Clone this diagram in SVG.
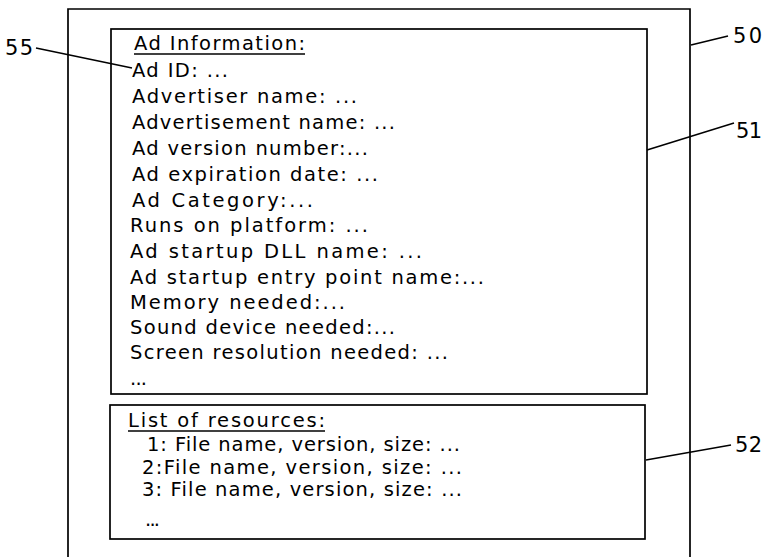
<svg xmlns="http://www.w3.org/2000/svg" width="765" height="557" viewBox="0 0 765 557">
<style>
.box{fill:none;stroke:#000;stroke-width:1.7}
.lead{fill:none;stroke:#000;stroke-width:1.5}
.t{font-family:"DejaVu Sans","Liberation Sans",sans-serif;font-size:19.5px;fill:#000}
.ref{font-family:"DejaVu Sans","Liberation Sans",sans-serif;font-size:21px;fill:#000}
.ul{stroke:#000;stroke-width:1.5}
</style>
<rect width="765" height="557" fill="#fff"/>
<g id="frame50">
<path class="box" d="M68,560 L68,9 L690,9 L690,560"/>
</g>
<g id="box51">
<rect class="box" x="111" y="29" width="536" height="365"/>
<text class="t" x="134" y="50" textLength="171" lengthAdjust="spacing">Ad Information:</text>
<line class="ul" x1="134" y1="54" x2="305" y2="54"/>
<text class="t" x="132" y="77" textLength="96" lengthAdjust="spacing">Ad ID: ...</text>
<text class="t" x="132" y="103" textLength="225" lengthAdjust="spacing">Advertiser name: ...</text>
<text class="t" x="132" y="129" textLength="263" lengthAdjust="spacing">Advertisement name: ...</text>
<text class="t" x="132" y="155" textLength="236" lengthAdjust="spacing">Ad version number:...</text>
<text class="t" x="132" y="181" textLength="246" lengthAdjust="spacing">Ad expiration date: ...</text>
<text class="t" x="132" y="207" textLength="181" lengthAdjust="spacing">Ad Category:...</text>
<text class="t" x="130" y="232" textLength="238" lengthAdjust="spacing">Runs on platform: ...</text>
<text class="t" x="130" y="258" textLength="292" lengthAdjust="spacing">Ad startup DLL name: ...</text>
<text class="t" x="130" y="284" textLength="354" lengthAdjust="spacing">Ad startup entry point name:...</text>
<text class="t" x="130" y="309" textLength="215" lengthAdjust="spacing">Memory needed:...</text>
<text class="t" x="130" y="334" textLength="265" lengthAdjust="spacing">Sound device needed:...</text>
<text class="t" x="130" y="359" textLength="318" lengthAdjust="spacing">Screen resolution needed: ...</text>
<text class="t" x="130" y="385" textLength="17" lengthAdjust="spacing">...</text>
</g>
<g id="box52">
<rect class="box" x="110" y="405" width="535" height="134"/>
<text class="t" x="128" y="427" textLength="197" lengthAdjust="spacing">List of resources:</text>
<line class="ul" x1="128" y1="431" x2="325" y2="431"/>
<text class="t" x="147" y="451" textLength="313" lengthAdjust="spacing">1: File name, version, size: ...</text>
<text class="t" x="142" y="474" textLength="320" lengthAdjust="spacing">2:File name, version, size: ...</text>
<text class="t" x="142" y="496" textLength="320" lengthAdjust="spacing">3: File name, version, size: ...</text>
<text class="t" x="145" y="526" textLength="15" lengthAdjust="spacing">...</text>
</g>
<g id="label55"><text class="ref" x="5" y="55" textLength="28" lengthAdjust="spacing">55</text></g>
<g id="label50"><text class="ref" x="733" y="43" textLength="29" lengthAdjust="spacing">50</text></g>
<g id="label51"><text class="ref" x="736" y="138" textLength="26" lengthAdjust="spacing">51</text></g>
<g id="label52"><text class="ref" x="735" y="452" textLength="27" lengthAdjust="spacing">52</text></g>
<g id="connectors">
<line class="lead" x1="36" y1="48" x2="132" y2="68"/>
<line class="lead" x1="691" y1="45" x2="728" y2="36"/>
<line class="lead" x1="647" y1="150" x2="734" y2="123"/>
<line class="lead" x1="646" y1="460" x2="731" y2="445"/>
</g>
</svg>
